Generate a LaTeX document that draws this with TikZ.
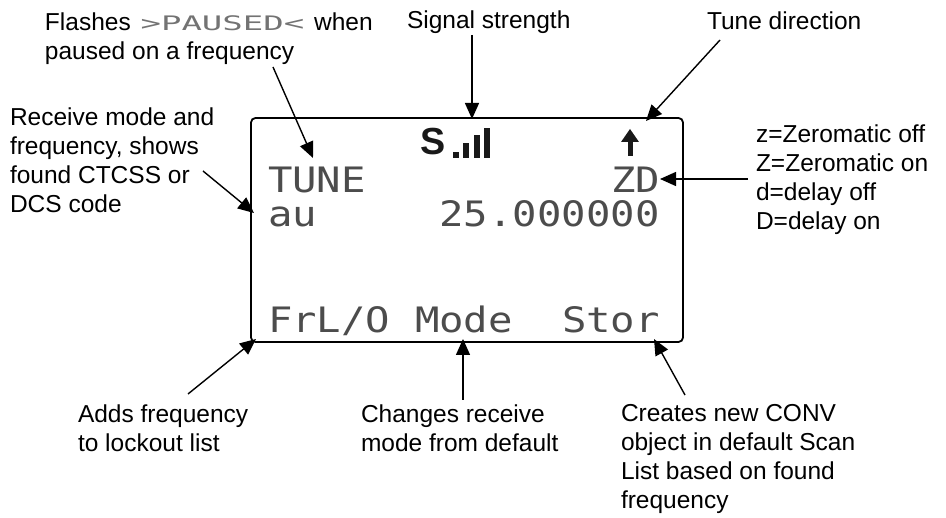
\documentclass[tikz,border=0pt]{standalone}
\usepackage{fontspec}
\setmainfont{Liberation Sans}
\newfontfamily\lcdfont[FakeStretch=1.16]{DejaVu Sans Mono}
\newfontfamily\lcdsmallfont[FakeStretch=1.7]{DejaVu Sans Mono}
\usetikzlibrary{arrows.meta,calc}
\begin{document}
\begin{tikzpicture}[x=1pt,y=-1pt,
  lbl/.style={anchor=north west,inner sep=0pt,outer sep=0pt,align=left,font=\fontsize{24.5}{29}\selectfont},
  lcdtxt/.style={anchor=base west,inner sep=0pt,outer sep=0pt,font=\lcdfont\fontsize{35}{35}\selectfont,text=black!70},
  conn/.style={line width=1.4pt,-{Triangle[length=16pt,width=14pt]}},
  lcdbox/.style={draw,line width=1.8pt,rounded corners=4.5pt,inner sep=0pt},
  icon/.style={fill=black!90}]
\useasboundingbox (0,0) rectangle (946,518);
% display frame
\node[lcdbox,minimum width=432pt,minimum height=224pt] (lcd) at (467,230) {};
% labels
\node[lbl] (flash) at (45,12.5) {Flashes\hspace{3pt} {\lcdsmallfont\fontsize{20}{29}\selectfont\color{black!55}>PAUSED<}\hspace{3pt} when\\paused on a frequency};
\node[lbl] (signal) at (407,10.5) {Signal strength};
\node[lbl] (tunedir) at (707,11.5) {Tune direction};
\node[lbl] (recv) at (10,107.5) {Receive mode and\\frequency, shows\\found CTCSS or\\DCS code};
\node[lbl] (zinfo) at (756,124.5) {z=Zeromatic off\\Z=Zeromatic on\\d=delay off\\D=delay on};
\node[lbl] (adds) at (78,404.5) {Adds frequency\\to lockout list};
\node[lbl] (changes) at (361,404.5) {Changes receive\\mode from default};
\node[lbl] (creates) at (621,404.5) {Creates new CONV\\object in default Scan\\List based on found\\frequency};
% LCD contents
\node[lcdtxt] (tune) at (268,193) {TUNE};
\node[lcdtxt] (zd) at (611,193) {ZD};
\node[lcdtxt] (au) at (268,227) {au};
\node[lcdtxt] (freq) at (439.5,227) {25.000000};
\node[lcdtxt] (frlo) at (268,333) {FrL/O};
\node[lcdtxt] (mode) at (415,333) {Mode};
\node[lcdtxt] (stor) at (562,333) {Stor};
% icons
\node[anchor=base west,inner sep=0pt,font=\bfseries\fontsize{37.7}{38}\selectfont,text=black!90] (sicon) at (420,155) {S};
\fill[icon] (453,152) rectangle (459,158);
\fill[icon] (463,143) rectangle (469,158);
\fill[icon] (473.5,135) rectangle (479.5,158);
\fill[icon] (484,128) rectangle (490,158);
\fill[icon] (621,142) -- (630,129) -- (639,142) -- cycle;
\fill[icon] (627.5,141) rectangle (632.5,156);
% connector end points
\coordinate (flashS) at (273,67);   \coordinate (flashT) at (313,158);
\coordinate (sigS) at (472,35);     \coordinate (sigT) at (472,119);
\coordinate (tuneS) at (720,40);    \coordinate (tuneT) at (646,121);
\coordinate (recvS) at (203,171);   \coordinate (recvT) at (254,213);
\coordinate (zS) at (748,179);      \coordinate (zT) at (660,179);
\coordinate (addsS) at (188,394);   \coordinate (addsT) at (256,339);
\coordinate (modeS) at (463,400);   \coordinate (modeT) at (463,339);
\coordinate (creS) at (685,395);    \coordinate (creT) at (654,339);
% connectors
\draw[conn] (flashS) -- (flashT);
\draw[conn] (sigS) -- (sigT);
\draw[conn] (tuneS) -- (tuneT);
\draw[conn] (recvS) -- (recvT);
\draw[conn] (zS) -- (zT);
\draw[conn] (addsS) -- (addsT);
\draw[conn] (modeS) -- (modeT);
\draw[conn] (creS) -- (creT);
\end{tikzpicture}
\end{document}
